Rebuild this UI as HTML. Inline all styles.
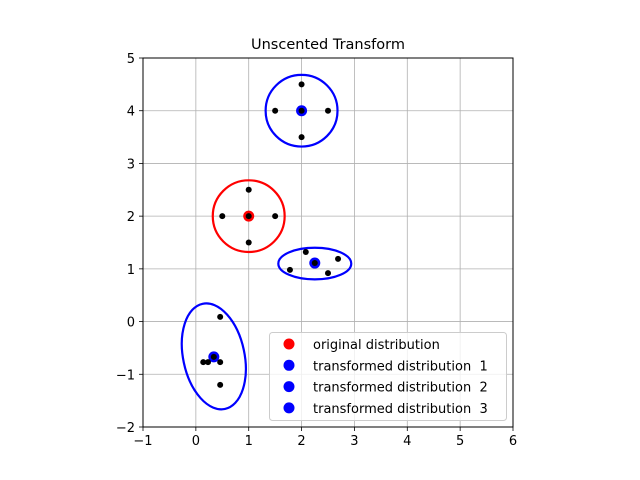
<!DOCTYPE html>
<html><head><meta charset="utf-8"><style>
body{margin:0;background:#fff;}
svg{display:block;font-family:"DejaVu Sans","Liberation Sans",sans-serif;}
</style></head><body>
<svg id="chart" width="640" height="480"></svg>
<script>
const xTicks=[-1,0,1,2,3,4,5,6];
const yTicks=[-2,-1,0,1,2,3,4,5];
const sigmaX=[1,1.5,0.5,1,1, 2,2.5,1.5,2,2, 2.25,2.08,1.78,2.69,2.5, 0.34,0.46,0.14,0.23,0.46,0.46];
const sigmaY=[2,2,2,2.5,1.5, 4,4,4,4.5,3.5, 1.11,1.32,0.98,1.19,0.92, -0.67,0.09,-0.77,-0.77,-0.77,-1.2];
const meanX=[1,2,2.25,0.34];
const meanY=[2,4,1.11,-0.67];
const meanColors=["red","blue","blue","blue"];
const ellCx=[1,2,2.25,0.34];
const ellCy=[2,4,1.1,-0.66];
const ellRx=[0.68,0.68,0.69,0.58];
const ellRy=[0.68,0.68,0.3,1.02];
const ellAngle=[0,0,0,-12];
const ellColors=["red","blue","blue","blue"];
const legendLabels=["original distribution","transformed distribution  1","transformed distribution  2","transformed distribution  3"];

const L=143,R=513,T=58,B=427;
const X=v=>L+(v+1)*(R-L)/7;
const Y=v=>B-(v+2)*(B-T)/7;
const s=document.getElementById('chart');
const NS="http://www.w3.org/2000/svg";
function mk(tag,attrs,parent){const e=document.createElementNS(NS,tag);for(const k in attrs)e.setAttribute(k,attrs[k]);(parent||s).appendChild(e);return e;}

const t=mk('text',{x:328,y:49,'text-anchor':'middle','font-size':14.5,fill:'#000'});t.textContent='Unscented Transform';



xTicks.forEach(v=>{
 const g=mk('line',{x1:X(v),x2:X(v),y1:T,y2:B,stroke:'#b0b0b0','stroke-width':0.8});
 
 
 mk('line',{x1:X(v),x2:X(v),y1:B,y2:B+4,stroke:'#000','stroke-width':0.8});
 const tx=mk('text',{x:X(v),y:B+18,'text-anchor':'middle','font-size':13});tx.textContent=v<0?'\u2212'+(-v):v;
 
 
});
yTicks.forEach(v=>{
 const g=mk('line',{x1:L,x2:R,y1:Y(v),y2:Y(v),stroke:'#b0b0b0','stroke-width':0.8});
 
 
 mk('line',{x1:L-4,x2:L,y1:Y(v),y2:Y(v),stroke:'#000','stroke-width':0.8});
 const tx=mk('text',{x:L-8,y:Y(v)+5,'text-anchor':'end','font-size':13});tx.textContent=v<0?'\u2212'+(-v):v;
 
 
});

ellCx.forEach((c,i)=>{
 const rx=ellRx[i]*(R-L)/7, ry=ellRy[i]*(B-T)/7;
 const e=mk('ellipse',{cx:X(c),cy:Y(ellCy[i]),rx:rx,ry:ry,fill:'none',stroke:ellColors[i],'stroke-width':2.2,transform:`rotate(${ellAngle[i]} ${X(c)} ${Y(ellCy[i])})`});
 
 
});
meanX.forEach((v,i)=>{
 const c=mk('circle',{cx:X(v),cy:Y(meanY[i]),r:5.5,fill:meanColors[i]});
 
 
});
sigmaX.forEach((v,i)=>{
 const c=mk('circle',{cx:X(v),cy:Y(sigmaY[i]),r:3,fill:'#000'});
 
 
});

const fr=mk('rect',{x:L,y:T,width:R-L,height:B-T,fill:'none',stroke:'#000','stroke-width':1});



const lg=mk('g',{});


mk('rect',{x:269.5,y:332.5,width:237,height:88,rx:3,fill:'#fff','fill-opacity':0.8,stroke:'#ccc'},lg);
legendLabels.forEach((lab,i)=>{
 const y=344+i*21.3;
 const e=mk('g',{},lg);
 
 
 mk('circle',{cx:289,cy:y,r:5.5,fill:meanColors[i]},e);
 const tx=mk('text',{x:313,y:y+5,'font-size':13},e);tx.textContent=lab;tx.setAttribute('xml:space','preserve');tx.style.whiteSpace='pre';
});
</script>
</body></html>
